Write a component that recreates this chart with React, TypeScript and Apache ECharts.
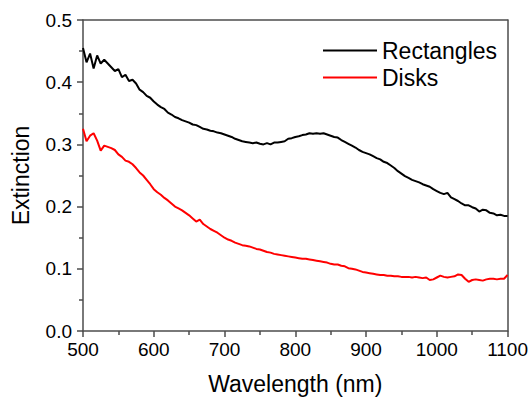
import React, { useEffect, useRef } from "react";
import * as echarts from "echarts";

// Wavelength grid (nm), 5 nm steps from 500 to 1100
const wavelengths: number[] = Array.from({ length: 121 }, (_, i) => 500 + i * 5);

// Extinction, one value per wavelength above
const rectangles: number[] = [
  0.455, 0.432, 0.446, 0.422, 0.443, 0.430, 0.436, 0.430, 0.424, 0.418,
  0.421, 0.408, 0.412, 0.402, 0.404, 0.398, 0.388, 0.384, 0.378, 0.375,
  0.369, 0.364, 0.360, 0.357, 0.351, 0.348, 0.344, 0.342, 0.339, 0.337,
  0.335, 0.332, 0.331, 0.328, 0.325, 0.324, 0.322, 0.321, 0.319, 0.318,
  0.316, 0.314, 0.312, 0.309, 0.307, 0.305, 0.304, 0.303, 0.302, 0.303,
  0.301, 0.300, 0.302, 0.300, 0.303, 0.303, 0.304, 0.305, 0.309, 0.310,
  0.312, 0.313, 0.315, 0.316, 0.318, 0.317, 0.318, 0.317, 0.318, 0.316,
  0.314, 0.312, 0.311, 0.307, 0.304, 0.301, 0.298, 0.295, 0.291, 0.288,
  0.286, 0.284, 0.281, 0.278, 0.276, 0.272, 0.270, 0.266, 0.262, 0.257,
  0.253, 0.249, 0.246, 0.243, 0.241, 0.239, 0.236, 0.234, 0.232, 0.228,
  0.225, 0.222, 0.220, 0.222, 0.215, 0.212, 0.209, 0.205, 0.202, 0.202,
  0.199, 0.197, 0.192, 0.195, 0.194, 0.190, 0.189, 0.186, 0.187, 0.185,
  0.185,
];

const disks: number[] = [
  0.325, 0.305, 0.314, 0.318, 0.306, 0.290, 0.298, 0.296, 0.294, 0.291,
  0.284, 0.280, 0.274, 0.272, 0.268, 0.262, 0.255, 0.250, 0.243, 0.236,
  0.228, 0.223, 0.219, 0.214, 0.210, 0.205, 0.200, 0.197, 0.194, 0.190,
  0.186, 0.181, 0.176, 0.179, 0.172, 0.168, 0.164, 0.161, 0.158, 0.154,
  0.150, 0.147, 0.145, 0.142, 0.140, 0.138, 0.137, 0.136, 0.134, 0.132,
  0.131, 0.129, 0.127, 0.126, 0.124, 0.123, 0.122, 0.121, 0.120, 0.119,
  0.118, 0.117, 0.116, 0.116, 0.115, 0.114, 0.113, 0.112, 0.111, 0.110,
  0.108, 0.107, 0.107, 0.105, 0.104, 0.101, 0.100, 0.099, 0.097, 0.095,
  0.094, 0.093, 0.092, 0.091, 0.090, 0.090, 0.089, 0.089, 0.088, 0.088,
  0.087, 0.087, 0.087, 0.086, 0.087, 0.086, 0.085, 0.086, 0.082, 0.083,
  0.086, 0.089, 0.087, 0.086, 0.087, 0.088, 0.091, 0.090, 0.084, 0.079,
  0.082, 0.083, 0.082, 0.081, 0.083, 0.084, 0.084, 0.083, 0.084, 0.084,
  0.090,
];

const seriesNames = ["Rectangles", "Disks"];
const seriesColors = ["#000000", "#ff0000"];
const xTitle = "Wavelength (nm)";
const yTitle = "Extinction";

export default function App() {
  const ref = useRef<HTMLDivElement>(null);

  useEffect(() => {
    if (!ref.current) return;
    const chart = echarts.init(ref.current, undefined, { renderer: "svg" });
    const font = "'Liberation Sans', Arial, sans-serif";
    const axisColor = "#4d4d4d";
    const toPairs = (vals: number[]) => wavelengths.map((w, i) => [w, vals[i]]);

    chart.setOption({
      animation: false,
      backgroundColor: "#ffffff",
      textStyle: { fontFamily: font },
      grid: { left: 83, right: 22, top: 20, bottom: 67, containLabel: false },
      legend: {
        orient: "vertical",
        left: 318,
        top: 34,
        itemWidth: 54,
        itemHeight: 2,
        itemGap: 4,
        icon: "rect",
        textStyle: { fontSize: 23, color: "#000", fontFamily: font },
        data: seriesNames,
      },
      xAxis: [
        {
          type: "value",
          min: 500,
          max: 1100,
          interval: 100,
          name: xTitle,
          nameLocation: "middle",
          nameGap: 41,
          nameTextStyle: { fontSize: 23, color: "#000", fontFamily: font },
          axisLine: { show: true, onZero: false, lineStyle: { color: axisColor, width: 1.5 } },
          axisTick: { show: true, inside: false, length: 6, lineStyle: { color: axisColor, width: 1.5 } },
          minorTick: { show: true, splitNumber: 2, length: 4, lineStyle: { color: axisColor, width: 1.5 } },
          axisLabel: {
            fontSize: 19,
            color: "#000",
            margin: 9,
            fontFamily: font,
            formatter: (v: number) => String(v),
          },
          splitLine: { show: false },
        },
        {
          type: "value",
          position: "top",
          min: 500,
          max: 1100,
          axisLine: { show: true, onZero: false, lineStyle: { color: axisColor, width: 1.5 } },
          axisTick: { show: false },
          axisLabel: { show: false },
          splitLine: { show: false },
        },
      ],
      yAxis: [
        {
          type: "value",
          min: 0,
          max: 0.5,
          interval: 0.1,
          name: yTitle,
          nameLocation: "middle",
          nameGap: 51,
          nameTextStyle: { fontSize: 23, color: "#000", fontFamily: font },
          axisLine: { show: true, onZero: false, lineStyle: { color: axisColor, width: 1.5 } },
          axisTick: { show: true, inside: false, length: 6, lineStyle: { color: axisColor, width: 1.5 } },
          minorTick: { show: true, splitNumber: 2, length: 4, lineStyle: { color: axisColor, width: 1.5 } },
          axisLabel: {
            fontSize: 19,
            color: "#000",
            margin: 11,
            fontFamily: font,
            formatter: (v: number) => v.toFixed(1),
          },
          splitLine: { show: false },
        },
        {
          type: "value",
          position: "right",
          min: 0,
          max: 0.5,
          axisLine: { show: true, onZero: false, lineStyle: { color: axisColor, width: 1.5 } },
          axisTick: { show: false },
          axisLabel: { show: false },
          splitLine: { show: false },
        },
      ],
      series: [
        {
          name: seriesNames[0],
          type: "line",
          xAxisIndex: 0,
          yAxisIndex: 0,
          data: toPairs(rectangles),
          showSymbol: false,
          symbol: "none",
          color: seriesColors[0],
          lineStyle: { color: seriesColors[0], width: 2 },
        },
        {
          name: seriesNames[1],
          type: "line",
          xAxisIndex: 0,
          yAxisIndex: 0,
          data: toPairs(disks),
          showSymbol: false,
          symbol: "none",
          color: seriesColors[1],
          lineStyle: { color: seriesColors[1], width: 2 },
        },
      ],
    });

    return () => chart.dispose();
  }, []);

  return (
    <div
      ref={ref}
      style={{ position: "fixed", left: 0, top: 0, width: 531, height: 400, background: "#fff" }}
    />
  );
}
